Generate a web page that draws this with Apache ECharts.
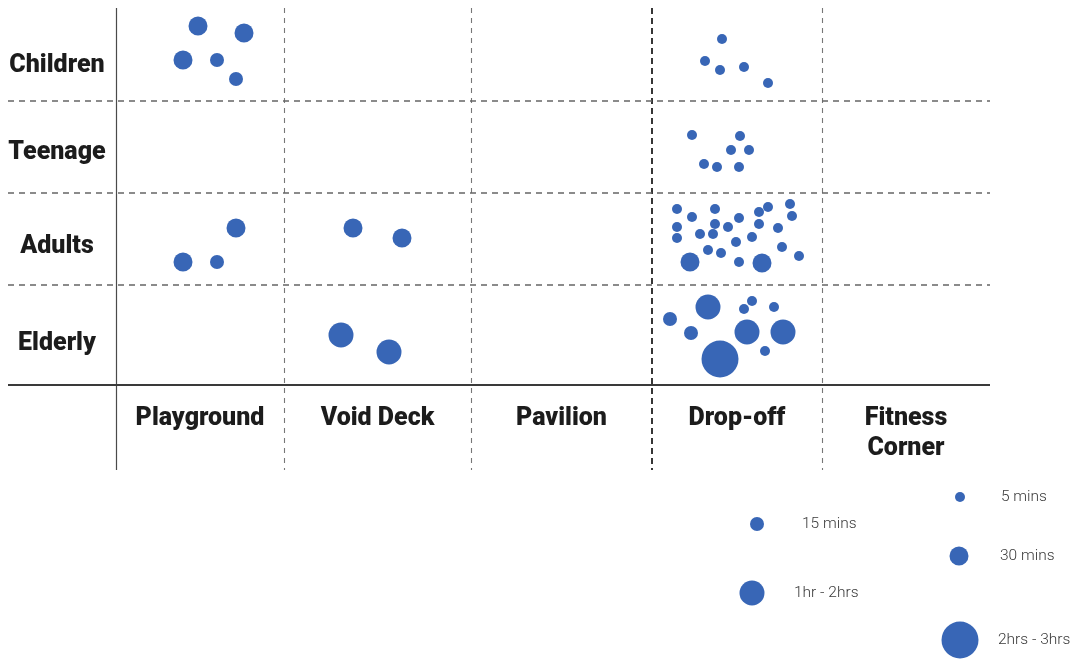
<!DOCTYPE html>
<html>
<head>
<meta charset="utf-8">
<title>Time spent by age group and location</title>
<script src="https://cdn.jsdelivr.net/npm/echarts@6/dist/echarts.min.js"></script>
<style>
  html, body { margin: 0; padding: 0; background: #fff; }
  #chart { width: 1086px; height: 659px; }
</style>
</head>
<body>
<div id="chart"></div>
<script>
// Categories
const ageGroups = ['Children', 'Teenage', 'Adults', 'Elderly'];
const locations = ['Playground', 'Void Deck', 'Pavilion', 'Drop-off', 'Fitness\nCorner'];
const durations = ['5 mins', '15 mins', '30 mins', '1hr - 2hrs', '2hrs - 3hrs'];

// Observations per cell: [x, y, duration index] in chart units
const childrenPlayground = [[198, 26, 2], [244, 33, 2], [183, 60, 2], [217, 60, 1], [236, 79, 1]];
const childrenDropoff = [[722, 39, 0], [705, 61, 0], [720, 70, 0], [744, 67, 0], [768, 83, 0]];
const teenageDropoff = [[692, 135, 0], [740, 136, 0], [731, 150, 0], [749, 150, 0], [704, 164, 0], [717, 167, 0], [739, 167, 0]];
const adultsPlayground = [[236, 228, 2], [183, 262, 2], [217, 262, 1]];
const adultsVoidDeck = [[353, 228, 2], [402, 238, 2]];
const adultsDropoff = [
  [677, 209, 0], [692, 217, 0], [715, 209, 0], [677, 227, 0], [715, 224, 0],
  [700, 234, 0], [713, 234, 0], [677, 238, 0], [728, 227, 0], [739, 218, 0],
  [759, 212, 0], [768, 207, 0], [790, 204, 0], [792, 216, 0], [759, 224, 0],
  [778, 228, 0], [752, 237, 0], [736, 242, 0], [708, 250, 0], [721, 253, 0],
  [782, 247, 0], [799, 256, 0], [739, 262, 0], [690, 262, 2], [762, 263, 2]
];
const elderlyVoidDeck = [[341, 335, 3], [389, 352, 3]];
const elderlyDropoff = [
  [708, 307, 3], [752, 301, 0], [744, 309, 0], [774, 307, 0], [670, 319, 1],
  [691, 333, 1], [747, 332, 3], [783, 332, 3], [765, 351, 0], [720, 359, 4]
];

// Layout: cell edges and label anchors (chart units)
const columnEdges = [116, 284, 471, 652, 822, 990];
const rowEdges = [8, 101, 193, 285, 385];
const rowLabelY = [66, 153, 247, 344];
const rowLabelX = 57;
const columnLabelTop = 404;

// Legend layout: [marker x, marker y, text x] per duration
const legendLayout = [[960, 497, 1001], [757, 524, 802], [959, 556, 1000], [752, 593, 794], [960, 640, 998]];

// Styles
const markerSizes = [10, 14, 19, 25, 37];
const bubbleColor = '#3866b6';

const allPoints = [].concat(
  childrenPlayground, childrenDropoff, teenageDropoff,
  adultsPlayground, adultsVoidDeck, adultsDropoff,
  elderlyVoidDeck, elderlyDropoff
);

const dashedGray = { type: [6, 5], color: '#666', width: 1.5 };
const dividerLines = [];
columnEdges.forEach((x, i) => {
  if (i === columnEdges.length - 1) return;
  if (i === 0) {
    dividerLines.push({ xAxis: x, lineStyle: { type: 'solid', color: '#4a4a4a', width: 1.2 } });
  } else if (i === 3) {
    dividerLines.push({ xAxis: x, lineStyle: { type: [6, 4], color: '#222', width: 1.8 } });
  } else {
    dividerLines.push({ xAxis: x, lineStyle: { type: [5, 5], color: '#777', width: 1.1 } });
  }
});
rowEdges.forEach((y, i) => {
  if (i === 0) return;
  if (i === rowEdges.length - 1) {
    dividerLines.push({ yAxis: y, lineStyle: { type: 'solid', color: '#3a3a3a', width: 1.8 } });
  } else {
    dividerLines.push({ yAxis: y, lineStyle: dashedGray });
  }
});

const rowLabelData = ageGroups.map((name, i) => ({ value: [rowLabelX, rowLabelY[i]], name }));
const columnLabelData = locations.map((name, i) => ({
  value: [(columnEdges[i] + columnEdges[i + 1]) / 2, columnLabelTop], name
}));

const boldLabel = {
  show: true,
  fontFamily: 'Roboto',
  fontWeight: 900,
  fontSize: 25,
  color: '#1c1c1c',
  formatter: p => p.name
};

const chart = echarts.init(document.getElementById('chart'), null, { renderer: 'canvas' });
chart.setOption({
  animation: false,
  backgroundColor: '#ffffff',
  grid: [
    { left: 8, top: 8, width: 982, height: 462 },
    { left: 0, top: 0, width: 1086, height: 659 }
  ],
  xAxis: [
    { type: 'value', gridIndex: 0, min: 8, max: 990, show: false },
    { type: 'value', gridIndex: 1, min: 0, max: 1086, show: false }
  ],
  yAxis: [
    { type: 'value', gridIndex: 0, min: 8, max: 470, inverse: true, show: false },
    { type: 'value', gridIndex: 1, min: 0, max: 659, inverse: true, show: false }
  ],
  series: [
    {
      name: 'dividers',
      type: 'scatter',
      xAxisIndex: 0, yAxisIndex: 0,
      data: [],
      silent: true,
      markLine: {
        silent: true,
        symbol: ['none', 'none'],
        label: { show: false },
        data: dividerLines
      }
    },
    {
      name: 'visits',
      type: 'scatter',
      xAxisIndex: 0, yAxisIndex: 0,
      data: allPoints,
      symbolSize: v => markerSizes[v[2]],
      itemStyle: { color: bubbleColor, opacity: 1 }
    },
    {
      name: 'age groups',
      type: 'scatter',
      xAxisIndex: 0, yAxisIndex: 0,
      symbolSize: 0,
      itemStyle: { opacity: 1 },
      data: rowLabelData,
      label: Object.assign({}, boldLabel, { position: 'inside', align: 'center', verticalAlign: 'middle' })
    },
    {
      name: 'locations',
      type: 'scatter',
      xAxisIndex: 0, yAxisIndex: 0,
      symbolSize: 0,
      itemStyle: { opacity: 1 },
      data: columnLabelData,
      label: Object.assign({}, boldLabel, {
        position: 'inside', align: 'center', verticalAlign: 'top', lineHeight: 30
      })
    },
    {
      name: 'legend markers',
      type: 'scatter',
      xAxisIndex: 1, yAxisIndex: 1,
      data: durations.map((name, i) => ({ value: [legendLayout[i][0], legendLayout[i][1], i], name })),
      symbolSize: v => markerSizes[v[2]],
      itemStyle: { color: bubbleColor, opacity: 1 }
    },
    {
      name: 'legend labels',
      type: 'scatter',
      xAxisIndex: 1, yAxisIndex: 1,
      symbolSize: 0,
      itemStyle: { opacity: 1 },
      data: durations.map((name, i) => ({ value: [legendLayout[i][2], legendLayout[i][1]], name })),
      label: {
        show: true,
        position: 'inside',
        align: 'left',
        verticalAlign: 'middle',
        fontFamily: 'Roboto',
        fontWeight: 300,
        fontSize: 15.5,
        color: '#3a3a3a',
        formatter: p => p.name
      }
    }
  ]
});
</script>
</body>
</html>
